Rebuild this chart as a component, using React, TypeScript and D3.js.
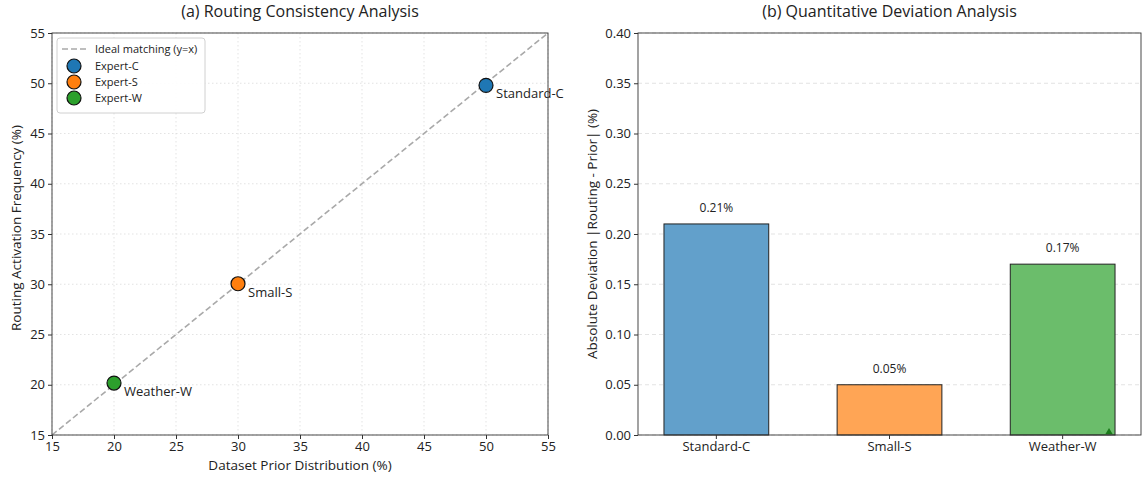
import React, { useEffect, useRef } from "react";
import * as d3 from "d3";

// data
const experts = ["Expert-C", "Expert-S", "Expert-W"];
const domains = ["Standard-C", "Small-S", "Weather-W"];
const priors = [50, 30, 20];
const routing = [49.79, 30.05, 20.17];
const deviations = [0.21, 0.05, 0.17];
const colors = ["#1f77b4", "#ff7f0e", "#2ca02c"];
const barColors = ["#62a0cb", "#ffa555", "#6bbd6b"];
const leftTicks = [15, 20, 25, 30, 35, 40, 45, 50, 55];
const rightTicks = [0, 0.05, 0.1, 0.15, 0.2, 0.25, 0.3, 0.35, 0.4];

const W = 1142;
const H = 477;
const FONT = "'Open Sans', Roboto, sans-serif";

const App = () => {
  const ref = useRef<SVGSVGElement>(null);

  useEffect(() => {
    const svg = d3.select(ref.current);
    svg.selectAll("*").remove();
    svg.style("font-family", FONT);

    const top = 33;
    const bottom = 435;

    // ---------- (a) scatter ----------
    const x = d3.scaleLinear().domain([15, 55]).range([52, 548]);
    const y = d3.scaleLinear().domain([15, 55]).range([bottom, top]);
    const a = svg.append("g");

    // grid
    a.selectAll("line.gx")
      .data(leftTicks)
      .enter()
      .append("line")
      .attr("x1", (d) => x(d))
      .attr("x2", (d) => x(d))
      .attr("y1", top)
      .attr("y2", bottom)
      .attr("stroke", "#dcdcdc")
      .attr("stroke-width", 0.8)
      .attr("stroke-dasharray", "1.5,2.5");
    a.selectAll("line.gy")
      .data(leftTicks)
      .enter()
      .append("line")
      .attr("x1", 52)
      .attr("x2", 548)
      .attr("y1", (d) => y(d))
      .attr("y2", (d) => y(d))
      .attr("stroke", "#dcdcdc")
      .attr("stroke-width", 0.8)
      .attr("stroke-dasharray", "1.5,2.5");

    // ideal line
    a.append("line")
      .attr("x1", x(15))
      .attr("y1", y(15))
      .attr("x2", x(55))
      .attr("y2", y(55))
      .attr("stroke", "#a9a9a9")
      .attr("stroke-width", 1.6)
      .attr("stroke-dasharray", "6,3");

    // axes
    const ax = a
      .append("g")
      .attr("transform", `translate(0,${bottom})`)
      .call(d3.axisBottom(x).tickValues(leftTicks).tickSize(4).tickPadding(3));
    const ay = a
      .append("g")
      .attr("transform", `translate(52,0)`)
      .call(d3.axisLeft(y).tickValues(leftTicks).tickSize(4).tickPadding(3));
    [ax, ay].forEach((g) => {
      g.select(".domain").remove();
      g.selectAll("text").attr("font-size", 13).attr("fill", "#222").attr("font-family", FONT);
      g.selectAll("line").attr("stroke", "#333");
    });
    a.append("rect")
      .attr("x", 52)
      .attr("y", top)
      .attr("width", 548 - 52)
      .attr("height", bottom - top)
      .attr("fill", "none")
      .attr("stroke", "#333")
      .attr("stroke-width", 0.9);

    // points
    a.selectAll("circle.pt")
      .data(priors)
      .enter()
      .append("circle")
      .attr("cx", (d) => x(d))
      .attr("cy", (d, i) => y(routing[i]))
      .attr("r", 7)
      .attr("fill", (d, i) => colors[i])
      .attr("stroke", "#111")
      .attr("stroke-width", 1.2);
    a.selectAll("text.pl")
      .data(priors)
      .enter()
      .append("text")
      .attr("x", (d) => x(d) + 10)
      .attr("y", (d, i) => y(routing[i]) + 13)
      .attr("font-size", 13)
      .attr("fill", "#222")
      .text((d, i) => domains[i]);

    // legend
    const lg = a.append("g").attr("transform", "translate(57,38)");
    lg.append("rect")
      .attr("width", 148)
      .attr("height", 75)
      .attr("rx", 3)
      .attr("fill", "white")
      .attr("fill-opacity", 0.9)
      .attr("stroke", "#d0d0d0");
    lg.append("line")
      .attr("x1", 5)
      .attr("x2", 31)
      .attr("y1", 11)
      .attr("y2", 11)
      .attr("stroke", "#a9a9a9")
      .attr("stroke-width", 1.6)
      .attr("stroke-dasharray", "6,3");
    lg.append("text")
      .attr("x", 38)
      .attr("y", 15)
      .attr("font-size", 11)
      .attr("fill", "#222")
      .text("Ideal matching (y=x)");
    experts.forEach((e, i) => {
      lg.append("circle")
        .attr("cx", 17)
        .attr("cy", 28 + i * 16)
        .attr("r", 7)
        .attr("fill", colors[i])
        .attr("stroke", "#111")
        .attr("stroke-width", 1.2);
      lg.append("text")
        .attr("x", 38)
        .attr("y", 32 + i * 16)
        .attr("font-size", 11)
        .attr("fill", "#222")
        .text(e);
    });

    a.append("text")
      .attr("x", (52 + 548) / 2)
      .attr("y", 17)
      .attr("text-anchor", "middle")
      .attr("font-size", 16)
      .attr("fill", "#222")
      .text("(a) Routing Consistency Analysis");
    a.append("text")
      .attr("x", (52 + 548) / 2)
      .attr("y", 470)
      .attr("text-anchor", "middle")
      .attr("font-size", 13.5)
      .attr("fill", "#222")
      .text("Dataset Prior Distribution (%)");
    a.append("text")
      .attr("transform", `translate(21,${(top + bottom) / 2 - 6}) rotate(-90)`)
      .attr("text-anchor", "middle")
      .attr("font-size", 13.5)
      .attr("fill", "#222")
      .text("Routing Activation Frequency (%)");

    // ---------- (b) bars ----------
    const left2 = 638;
    const right2 = 1141;
    const xb = d3.scaleBand().domain(domains).range([left2, right2]).paddingInner(0.395).paddingOuter(0.15);
    const yb = d3.scaleLinear().domain([0, 0.4]).range([bottom, top]);
    const b = svg.append("g");

    b.selectAll("line.gb")
      .data(rightTicks)
      .enter()
      .append("line")
      .attr("x1", left2)
      .attr("x2", right2)
      .attr("y1", (d) => yb(d))
      .attr("y2", (d) => yb(d))
      .attr("stroke", "#dcdcdc")
      .attr("stroke-width", 0.8)
      .attr("stroke-dasharray", "4,3");

    b.selectAll("rect.bar")
      .data(deviations)
      .enter()
      .append("rect")
      .attr("x", (d, i) => xb(domains[i])!)
      .attr("y", (d) => yb(d))
      .attr("width", xb.bandwidth())
      .attr("height", (d) => bottom - yb(d))
      .attr("fill", (d, i) => barColors[i])
      .attr("stroke", "#222")
      .attr("stroke-width", 1);
    b.selectAll("text.bv")
      .data(deviations)
      .enter()
      .append("text")
      .attr("x", (d, i) => xb(domains[i])! + xb.bandwidth() / 2)
      .attr("y", (d) => yb(d) - 12)
      .attr("text-anchor", "middle")
      .attr("font-size", 12)
      .attr("fill", "#222")
      .text((d) => `${d.toFixed(2)}%`);

    // small marker at the bottom of the last bar
    const lastX = xb(domains[2])! + xb.bandwidth() - 6;
    b.append("path")
      .attr("d", d3.symbol().type(d3.symbolTriangle).size(22)())
      .attr("transform", `translate(${lastX},${bottom - 3})`)
      .attr("fill", "#1a7a1a");

    const bx = b
      .append("g")
      .attr("transform", `translate(0,${bottom})`)
      .call(d3.axisBottom(xb).tickSize(4).tickPadding(3));
    const by = b
      .append("g")
      .attr("transform", `translate(${left2},0)`)
      .call(
        d3
          .axisLeft(yb)
          .tickValues(rightTicks)
          .tickFormat((d) => (d as number).toFixed(2))
          .tickSize(4)
          .tickPadding(3)
      );
    [bx, by].forEach((g) => {
      g.select(".domain").remove();
      g.selectAll("text").attr("font-size", 13).attr("fill", "#222").attr("font-family", FONT);
      g.selectAll("line").attr("stroke", "#333");
    });
    b.append("rect")
      .attr("x", left2)
      .attr("y", top)
      .attr("width", right2 - left2)
      .attr("height", bottom - top)
      .attr("fill", "none")
      .attr("stroke", "#333")
      .attr("stroke-width", 0.9);

    b.append("text")
      .attr("x", (left2 + right2) / 2)
      .attr("y", 17)
      .attr("text-anchor", "middle")
      .attr("font-size", 16)
      .attr("fill", "#222")
      .text("(b) Quantitative Deviation Analysis");
    b.append("text")
      .attr("transform", `translate(597,${(top + bottom) / 2}) rotate(-90)`)
      .attr("text-anchor", "middle")
      .attr("font-size", 13.5)
      .attr("fill", "#222")
      .text("Absolute Deviation |Routing - Prior| (%)");
  }, []);

  return (
    <svg
      ref={ref}
      width={W}
      height={H}
      style={{ position: "absolute", left: 0, top: 0, background: "white" }}
    />
  );
};

export default App;
